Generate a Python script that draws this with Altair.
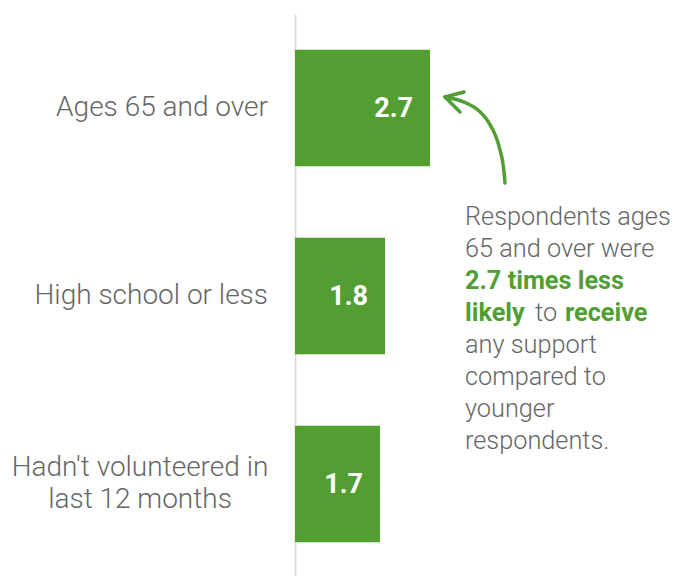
import altair as alt
import pandas as pd

categories = ["Ages 65 and over", "High school or less", "Hadn't volunteered in\nlast 12 months"]
values = [2.7, 1.8, 1.7]
value_labels = ["2.7", "1.8", "1.7"]
multiline = [False, False, True]

# annotation text lines: list of segments (text, emphasis)
note_lines = [
    [("Respondents ages", False)],
    [("65 and over were", False)],
    [("2.7 times less", True)],
    [("likely", True), ("to", False), ("receive", True)],
    [("any support", False)],
    [("compared to", False)],
    [("younger", False)],
    [("respondents.", False)],
]

GREEN = "#529E33"
GRAY = "#666666"
FONT = "Roboto"

df = pd.DataFrame({"cat": categories, "value": values, "label": value_labels, "multi": multiline})

y_enc = alt.Y("cat:N", sort=categories,
              scale=alt.Scale(paddingInner=0.38, paddingOuter=0.19),
              axis=alt.Axis(labels=False, ticks=False, title=None, domainColor="#dddddd",
                            domainWidth=2, grid=False))
x_enc = alt.X("value:Q", scale=alt.Scale(domain=[0, 7.6]), axis=None)

base = alt.Chart(df)

bars = base.mark_bar(color=GREEN).encode(x=x_enc, y=y_enc)

vals = base.mark_text(align="right", baseline="middle", dx=-17, dy=1, color="white",
                      font=FONT, fontWeight="bold", fontSize=27).encode(
    x=x_enc, y=alt.Y("cat:N", sort=categories), text="label:N")

cat_single = base.transform_filter("!datum.multi").mark_text(
    align="right", baseline="middle", font=FONT, fontWeight=300, fontSize=28, color=GRAY, dy=0
).encode(x=alt.value(-27), y=alt.Y("cat:N", sort=categories), text="cat:N")

cat_multi = base.transform_filter("datum.multi").mark_text(
    align="center", baseline="middle", font=FONT, fontWeight=300, fontSize=28, color=GRAY,
    lineBreak="\n", lineHeight=32, dy=-16
).encode(x=alt.value(-155), y=alt.Y("cat:N", sort=categories), text="cat:N")

# annotation text
note_x = 170
note_y0 = 211
note_lh = 32
seg_dx = {"to": 240, "receive": 270}
one = alt.Data(values=[{}])
note_layers = []
for i, line in enumerate(note_lines):
    for text, emph in line:
        note_layers.append(
            alt.Chart(one).mark_text(
                align="left", baseline="alphabetic", font=FONT,
                fontWeight="bold" if emph else 300,
                fontSize=25.3, color=GREEN if emph else GRAY,
            ).encode(x=alt.value(seg_dx.get(text, note_x)), y=alt.value(note_y0 + i * note_lh),
                     text=alt.value(text))
        )

# curved arrow (annotation geometry, pixel space)
arrow_df = pd.DataFrame({
    "px": [210, 206.7, 198, 185, 168, 150, 150, 169, 150, 165],
    "py": [169, 142.7, 116, 97.7, 87.7, 83, 83, 78, 83, 98],
    "part": ["c"] * 6 + ["b1", "b1", "b2", "b2"],
    "o": [0, 1, 2, 3, 4, 5, 0, 1, 0, 1],
})
arrow = alt.Chart(arrow_df).mark_line(color=GREEN, strokeWidth=3.5, strokeCap="round",
                                      strokeJoin="round", interpolate="catmull-rom").encode(
    x=alt.X("px:Q", scale=None), y=alt.Y("py:Q", scale=None), detail="part:N", order="o:Q")

chart = alt.layer(bars, vals, cat_single, cat_multi, arrow, *note_layers).properties(
    width=380, height=564,
    padding={"left": 287, "top": 6, "right": 0, "bottom": 0},
    autosize="none",
).configure_view(stroke=None)

chart.save("out.html", embed_options={"renderer": "svg", "actions": False})
